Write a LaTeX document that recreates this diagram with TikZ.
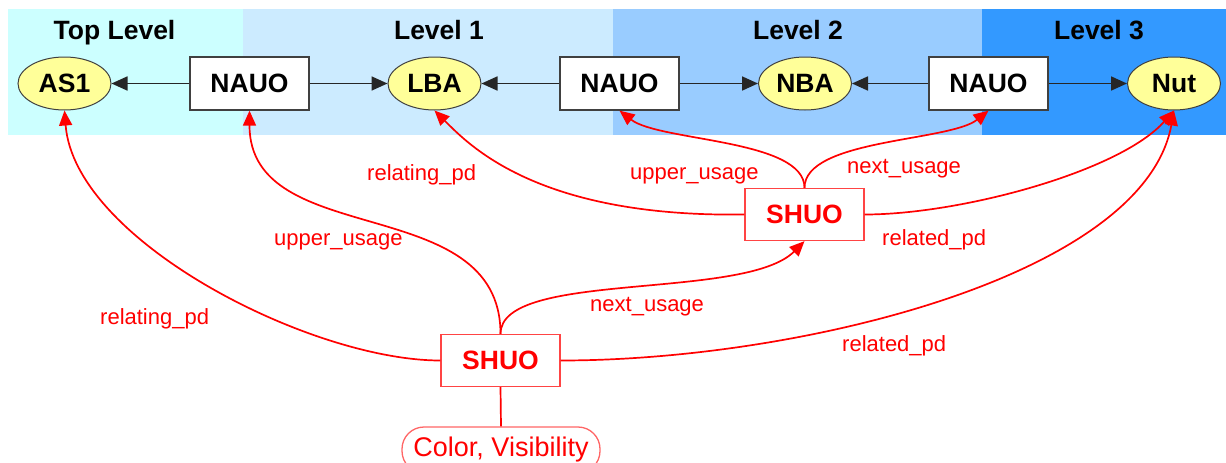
\documentclass[tikz,border=0pt]{standalone}
\usepackage{fontspec}
\setmainfont{Liberation Sans}
\usetikzlibrary{arrows.meta,shapes.geometric}
\definecolor{bandtop}{HTML}{CCFFFF}
\definecolor{bandone}{HTML}{CCEBFF}
\definecolor{bandtwo}{HTML}{99CCFF}
\definecolor{bandthree}{HTML}{3399FF}
\definecolor{ellyellow}{HTML}{FFFF99}
\definecolor{ellgray}{HTML}{404040}
\definecolor{boxgray}{HTML}{404040}
\definecolor{shuored}{HTML}{FF4444}
\definecolor{ovalred}{HTML}{FF6666}
\begin{document}
\begin{tikzpicture}[x=1pt,y=-1pt,
  title/.style={anchor=base, inner sep=0pt, font=\fontsize{26.5}{30}\selectfont\bfseries},
  ell/.style={ellipse, draw=ellgray, line width=1pt, fill=ellyellow, minimum width=93pt, minimum height=53pt, inner sep=0pt, font=\fontsize{26.5}{30}\selectfont\bfseries},
  nauo/.style={rectangle, draw=boxgray, line width=1.3pt, fill=white, minimum width=119pt, minimum height=53pt, inner sep=0pt, font=\fontsize{26.5}{30}\selectfont\bfseries},
  shuo/.style={rectangle, draw=shuored, line width=1.3pt, fill=white, minimum width=119pt, minimum height=52pt, inner sep=0pt, text=red, font=\fontsize{26.5}{30}\selectfont\bfseries},
  oval/.style={rectangle, rounded corners=22pt, draw=ovalred, line width=1.3pt, fill=white, minimum width=198pt, minimum height=46pt, inner sep=0pt, text=red, font=\fontsize{27}{30}\selectfont},
  lbl/.style={text=red, font=\fontsize{22}{26}\selectfont, anchor=base west, inner sep=0pt},
  blk/.style={-{Triangle[length=16pt,width=14pt]}, line width=1.8pt, draw=black!85},
  rel/.style={-{Triangle[length=15pt,width=13pt]}, line width=1.7pt, draw=red},
  plain/.style={line width=1.7pt, draw=red},
]
\useasboundingbox (0,0) rectangle (1226,463);
% bands
\fill[bandtop] (8,9) rectangle (243,135);
\fill[bandone] (243,9) rectangle (613,135);
\fill[bandtwo] (613,9) rectangle (982,135);
\fill[bandthree] (982,9) rectangle (1226,135);
\node[title] (tTop) at (114.5,39) {Top Level};
\node[title] (tOne) at (439,39) {Level 1};
\node[title] (tTwo) at (798,39) {Level 2};
\node[title] (tThree) at (1099,39) {Level 3};
% top row
\node[ell] (as1) at (64.5,83.5) {AS1};
\node[nauo] (nauo1) at (249.5,83.5) {NAUO};
\node[ell] (lba) at (434.5,83.5) {LBA};
\node[nauo] (nauo2) at (619.5,83.5) {NAUO};
\node[ell] (nba) at (805,83.5) {NBA};
\node[nauo] (nauo3) at (988.5,83.5) {NAUO};
\node[ell] (nut) at (1174,83.5) {Nut};
\draw[blk] (nauo1) -- (as1);
\draw[blk] (nauo1) -- (lba);
\draw[blk] (nauo2) -- (lba);
\draw[blk] (nauo2) -- (nba);
\draw[blk] (nauo3) -- (nba);
\draw[blk] (nauo3) -- (nut);
% SHUO nodes
\node[shuo] (shuo1) at (804.5,214.5) {SHUO};
\node[shuo] (shuo2) at (500.5,360.5) {SHUO};
\node[oval] (cv) at (501,450) {Color, Visibility};
% connectors from upper SHUO
\draw[rel] (shuo1.west) .. controls +(-205,3) and +(36,36) .. (lba.south);
\draw[rel] (shuo1.north) .. controls +(0,-49) and +(40,31) .. (nauo2.south);
\draw[rel] (shuo1.north) .. controls +(0,-49) and +(-39,31) .. (nauo3.south);
\draw[rel] (shuo1.east) .. controls +(96,0) and +(-54,61) .. (nut.south);
% connectors from lower SHUO
\draw[rel] (shuo2.west) .. controls +(-130,0) and +(10,130) .. (as1.south);
\draw[rel] (shuo2.north) .. controls +(0,-144) and +(0,141) .. (nauo1.south);
\draw[rel] (shuo2.north) .. controls +(0,-64) and +(-60,60) .. (shuo1.south);
\draw[rel] (shuo2.east) .. controls +(240,0) and +(-30,165) .. (nut.south);
\draw[plain] (shuo2.south) -- (cv.north);
% labels
\node[lbl] (l1) at (367,180) {relating\_pd};
\node[lbl] (l2) at (630,179) {upper\_usage};
\node[lbl] (l3) at (847,173) {next\_usage};
\node[lbl] (l4) at (882,245) {related\_pd};
\node[lbl] (l5) at (274,245) {upper\_usage};
\node[lbl] (l6) at (100,324) {relating\_pd};
\node[lbl] (l7) at (590,311) {next\_usage};
\node[lbl] (l8) at (842,351) {related\_pd};
\end{tikzpicture}
\end{document}
